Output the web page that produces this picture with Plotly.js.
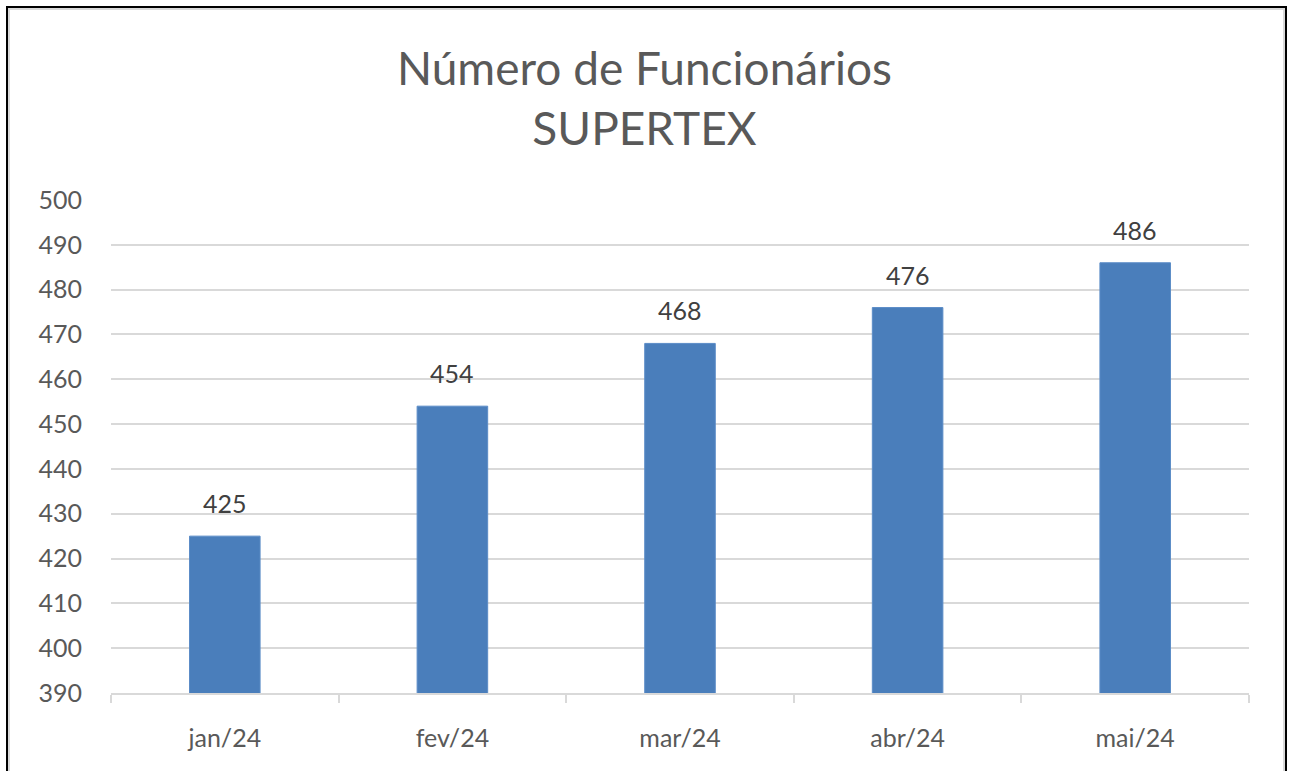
<!DOCTYPE html>
<html>
<head>
<meta charset="utf-8">
<script src="https://cdn.plot.ly/plotly-3.0.1.min.js"></script>
<style>
  html, body { margin: 0; padding: 0; overflow: hidden; background: #fff; }
  #chart { position: absolute; left: 0; top: 0; width: 1289px; height: 771px; }
  #frame { position: absolute; left: 6px; top: 6px; width: 1277px; height: 800px;
           border: 2px solid #000; pointer-events: none; }
  #frame2 { position: absolute; left: 8px; top: 8px; width: 1273px; height: 800px;
           border: 2px solid #d9d9d9; pointer-events: none; }
</style>
</head>
<body>
<div id="chart"></div>
<div id="frame"></div>
<div id="frame2"></div>
<script>
const categories = ["jan/24", "fev/24", "mar/24", "abr/24", "mai/24"];
const values = [425, 454, 468, 476, 486];
const yTicks = [390, 400, 410, 420, 430, 440, 450, 460, 470, 480, 490, 500];
const titleLines = ["Número de Funcionários", "SUPERTEX"];

const FONT = "Lato, 'Open Sans', sans-serif";

const trace = {
  type: "bar",
  x: categories,
  y: values,
  width: 0.31,
  marker: { color: "#4A7EBB", line: { color: "#5B8CC7", width: 1 } },
  hoverinfo: "x+y"
};

const annotations = categories.map((c, i) => ({
  x: c, y: values[i], xref: "x", yref: "y",
  text: String(values[i]), showarrow: false,
  yanchor: "bottom", yshift: 16,
  font: { family: FONT, size: 25, color: "#404040" }
}));

const layout = {
  width: 1289, height: 771,
  margin: { l: 111, r: 40, t: 200, b: 78 },
  paper_bgcolor: "#ffffff",
  plot_bgcolor: "#ffffff",
  showlegend: false,
  title: {
    text: titleLines.join("<br>"),
    font: { family: FONT, size: 46, color: "#595959" },
    x: 0.5, xanchor: "center",
    y: 0.89, yanchor: "top", yref: "container"
  },
  xaxis: {
    type: "category",
    range: [-0.5, 4.5],
    showline: true, linecolor: "#d9d9d9", linewidth: 2,
    ticks: "outside", tickson: "boundaries", ticklen: 8, tickwidth: 2, tickcolor: "#d9d9d9",
    showgrid: false,
    tickfont: { family: FONT, size: 25, color: "#595959" },
    ticklabelstandoff: 22,
    fixedrange: true
  },
  yaxis: {
    range: [390, 500],
    tickvals: yTicks,
    ticktext: yTicks.map(String),
    showgrid: true, gridcolor: "#d9d9d9", gridwidth: 2,
    zeroline: false, showline: false, ticks: "",
    tickfont: { family: FONT, size: 25, color: "#595959" },
    ticklabelstandoff: 28,
    fixedrange: true
  },
  annotations: annotations,
  bargap: 0
};

Plotly.newPlot("chart", [trace], layout, { displayModeBar: false, staticPlot: true });
</script>
</body>
</html>
